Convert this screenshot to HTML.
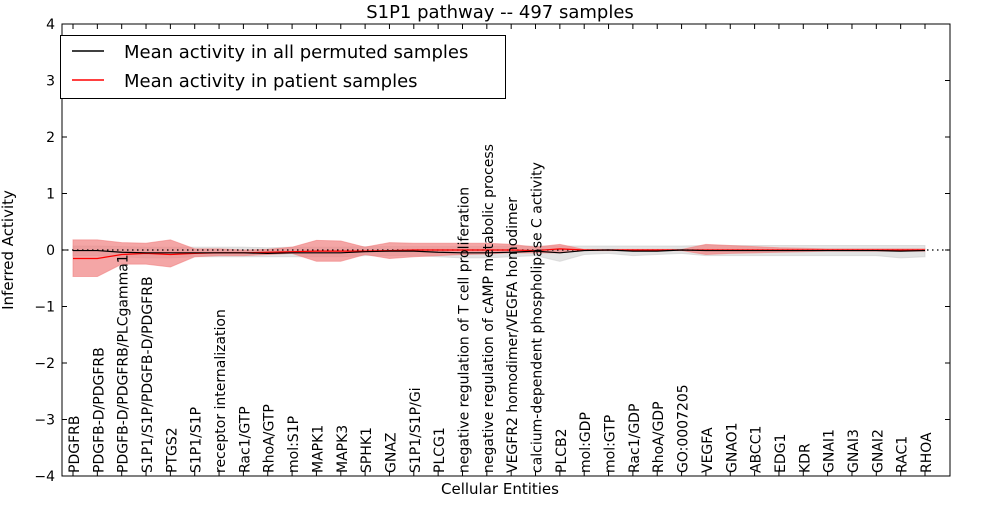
<!DOCTYPE html>
<html><head><meta charset="utf-8"><style>
body{margin:0;background:#fff;font-family:"Liberation Sans","DejaVu Sans",sans-serif}
</style></head><body>
<svg id="c" width="1000" height="500" xmlns="http://www.w3.org/2000/svg" font-family="DejaVu Sans, Liberation Sans, sans-serif"></svg>
<script>
const categories=["PDGFRB","PDGFB-D/PDGFRB","PDGFB-D/PDGFRB/PLCgamma1","S1P1/S1P/PDGFB-D/PDGFRB","PTGS2","S1P1/S1P","receptor internalization","Rac1/GTP","RhoA/GTP","mol:S1P","MAPK1","MAPK3","SPHK1","GNAZ","S1P1/S1P/Gi","PLCG1","negative regulation of T cell proliferation","negative regulation of cAMP metabolic process","VEGFR2 homodimer/VEGFA homodimer","calcium-dependent phospholipase C activity","PLCB2","mol:GDP","mol:GTP","Rac1/GDP","RhoA/GDP","GO:0007205","VEGFA","GNAO1","ABCC1","EDG1","KDR","GNAI1","GNAI3","GNAI2","RAC1","RHOA"];
const redMean=[-0.15,-0.15,-0.08,-0.06,-0.08,-0.06,-0.05,-0.05,-0.04,-0.03,-0.02,-0.02,-0.02,-0.01,0,0,0,0,0,-0.01,0.02,0,0,0,0,0,0,0,0,0,0,0,0,0,0,0];
const redUpper=[0.18,0.18,0.13,0.12,0.18,0.02,0.02,0.0,0.01,0.05,0.17,0.16,0.05,0.13,0.12,0.12,0.12,0.12,0.1,0.05,0.1,0.01,0.01,0.01,0.01,0.01,0.1,0.08,0.06,0.04,0.03,0.02,0.02,0.02,0.02,0.02];
const redLower=[-0.47,-0.47,-0.25,-0.25,-0.3,-0.12,-0.1,-0.1,-0.08,-0.06,-0.2,-0.2,-0.08,-0.15,-0.12,-0.1,-0.08,-0.07,-0.05,-0.05,-0.05,-0.01,-0.01,-0.01,-0.01,-0.01,-0.08,-0.06,-0.05,-0.04,-0.03,-0.02,-0.02,-0.02,-0.02,-0.02];
const blackMean=[-0.01,-0.01,-0.04,-0.05,-0.05,-0.05,-0.05,-0.05,-0.06,-0.05,-0.05,-0.05,-0.03,-0.02,-0.02,-0.04,-0.05,-0.05,-0.04,-0.02,-0.05,-0.01,0,-0.02,-0.02,0,-0.01,-0.01,-0.01,-0.01,-0.01,-0.01,-0.01,-0.01,-0.02,-0.01];
const grayUpper=[0.07,0.07,0.06,0.05,0.05,0.05,0.05,0.05,0.04,0.05,0.05,0.05,0.06,0.06,0.06,0.06,0.06,0.06,0.07,0.07,0.07,0.07,0.07,0.07,0.07,0.07,0.08,0.08,0.08,0.08,0.08,0.08,0.08,0.08,0.08,0.08];
const grayLower=[-0.1,-0.1,-0.12,-0.14,-0.14,-0.12,-0.12,-0.12,-0.12,-0.12,-0.12,-0.12,-0.1,-0.1,-0.1,-0.12,-0.14,-0.14,-0.12,-0.1,-0.2,-0.08,-0.06,-0.1,-0.08,-0.06,-0.1,-0.1,-0.1,-0.1,-0.1,-0.1,-0.1,-0.1,-0.14,-0.12];
const yTicks=[-4,-3,-2,-1,0,1,2,3,4];
const L=62,R=950,T=24,B=476;
const xs=i=>73+i*(925-73)/(categories.length-1);
const ys=v=>B-(v+4)/8*(B-T);
const svg=document.getElementById('c');
const NS='http://www.w3.org/2000/svg';
function mk(tag,attrs,txt){const e=document.createElementNS(NS,tag);for(const k in attrs)e.setAttribute(k,attrs[k]);if(txt!=null)e.textContent=txt;svg.appendChild(e);return e;}
function band(up,lo){let p=up.map((v,i)=>xs(i)+','+ys(v));for(let i=lo.length-1;i>=0;i--)p.push(xs(i)+','+ys(lo[i]));return p.join(' ');}
function line(a){return a.map((v,i)=>xs(i)+','+ys(v)).join(' ');}
let e;
e=mk('polygon',{points:band(grayUpper,grayLower),fill:'#c8c8c8','fill-opacity':'0.5',stroke:'#c8c8c8','stroke-opacity':'0.5'});

e=mk('polygon',{points:band(redUpper,redLower),fill:'#f08080','fill-opacity':'0.7',stroke:'#f08080','stroke-opacity':'0.6'});

e=mk('line',{x1:L,x2:R,y1:ys(0),y2:ys(0),stroke:'#000','stroke-dasharray':'1.5,3.5','stroke-width':1.2});

e=mk('polyline',{points:line(redMean),fill:'none',stroke:'#f00','stroke-width':1.2});

e=mk('polyline',{points:line(blackMean),fill:'none',stroke:'#000','stroke-width':1.2});

e=mk('rect',{x:L,y:T,width:R-L,height:B-T,fill:'none',stroke:'#000'});

yTicks.forEach(v=>{
  const y=ys(v);
  mk('line',{x1:L,x2:L+5,y1:y,y2:y,stroke:'#000'});
  mk('line',{x1:R,x2:R-5,y1:y,y2:y,stroke:'#000'});
  e=mk('text',{x:L-7,y:y+5,'text-anchor':'end','font-size':14},(v<0?'\u2212'+(-v):v));
  
});
categories.forEach((c,i)=>{
  const x=xs(i);
  mk('line',{x1:x,x2:x,y1:B,y2:B-5,stroke:'#000'});
  mk('line',{x1:x,x2:x,y1:T,y2:T+5,stroke:'#000'});
  e=mk('text',{x:0,y:0,'font-size':14,transform:`translate(${x+6},${B-3}) rotate(-90)`},c);
  
});
e=mk('text',{x:500,y:18,'text-anchor':'middle','font-size':18},'S1P1 pathway -- 497 samples');

e=mk('text',{x:500,y:494,'text-anchor':'middle','font-size':15},'Cellular Entities');

e=mk('text',{x:0,y:0,'text-anchor':'middle','font-size':15,transform:'translate(13,250) rotate(-90)'},'Inferred Activity');

e=mk('rect',{x:60.5,y:35.5,width:445,height:63,fill:'#fff',stroke:'#000'});

mk('line',{x1:72,x2:104,y1:51,y2:51,stroke:'#000','stroke-width':1.4});
e=mk('text',{x:124,y:58,'font-size':18},'Mean activity in all permuted samples');

mk('line',{x1:72,x2:104,y1:80,y2:80,stroke:'#f00','stroke-width':1.4});
e=mk('text',{x:124,y:87,'font-size':18},'Mean activity in patient samples');

</script>
</body></html>
